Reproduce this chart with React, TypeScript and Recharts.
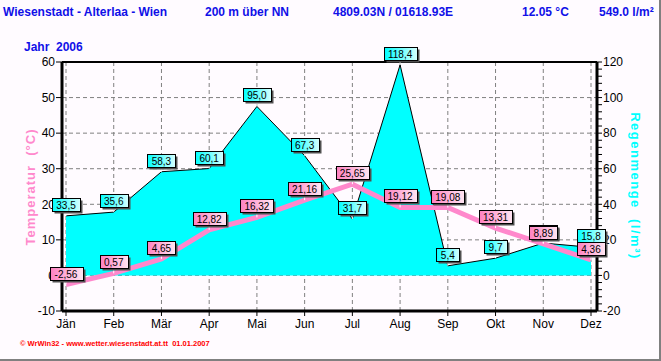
import React from 'react';
import {
  ComposedChart, Area, Line, XAxis, YAxis, CartesianGrid, LabelList, ReferenceLine,
} from 'recharts';

const months = ['Jän', 'Feb', 'Mär', 'Apr', 'Mai', 'Jun', 'Jul', 'Aug', 'Sep', 'Okt', 'Nov', 'Dez'];
const temperature = [-2.56, 0.57, 4.65, 12.82, 16.32, 21.16, 25.65, 19.12, 19.08, 13.31, 8.89, 4.36];
const rainfall = [33.5, 35.6, 58.3, 60.1, 95.0, 67.3, 31.7, 118.4, 5.4, 9.7, 18.2, 15.8];
const tempTicks = [-10, 0, 10, 20, 30, 40, 50, 60];
const rainTicks = [-20, 0, 20, 40, 60, 80, 100, 120];

const data = months.map((month, i) => ({
  month, idx: i, temp: temperature[i], rain: rainfall[i],
}));

// minor tick marks
const tempMinor: number[] = [];
for (let v = -10; v <= 60; v += 2) tempMinor.push(v);
const rainMinor: number[] = [];
for (let v = -20; v <= 120; v += 4) rainMinor.push(v);
const monthMinor: number[] = [];
for (let i = 0; i <= 44; i++) monthMinor.push(i / 4);

const FONT = '"Liberation Sans", Arial, sans-serif';
const BG = '#FFFBFF';
const BLUE = '#1010E8';
const PINK = '#FF88CC';
const CYAN = '#00FFFF';

const fmt = (v: number, d: number) => v.toFixed(d).replace('.', ',');

const valueBox = (kind: 'rain' | 'temp') => (props: any) => {
  const { x, y, value, index } = props;
  if (x == null || y == null || value == null) return null;
  const text = kind === 'rain' ? fmt(Number(value), 1) : fmt(Number(value), 2);
  const w = text.length * 5 + 8;
  const h = 13;
  const top = Math.round(y - 18) + 0.5;
  const left = Math.round(x - w / 2) + 0.5;
  return (
    <g key={`${kind}-${index}`}>
      <line x1={x} x2={x} y1={top + h} y2={y} stroke="#FFFFFF" strokeWidth={1} />
      <rect x={left + 2} y={top + 2} width={w} height={h} fill="#505050" />
      <rect x={left} y={top} width={w} height={h} fill={`url(#grad-${kind})`} stroke="#000" strokeWidth={1} />
      <text x={x} y={top + 10} textAnchor="middle" fontSize={10} fontFamily={FONT} fill="#000">{text}</text>
    </g>
  );
};

const abs = (left: number, top: number, extra: React.CSSProperties = {}): React.CSSProperties => ({
  position: 'absolute', left, top, whiteSpace: 'nowrap', fontFamily: FONT, ...extra,
});

const title: React.CSSProperties = { fontSize: 12, fontWeight: 'bold', color: BLUE, lineHeight: '14px' };

export default function App() {
  return (
    <div style={{ position: 'absolute', left: 0, top: 0, width: 661, height: 361, background: BG, overflow: 'hidden' }}>
      <ComposedChart width={661} height={361} data={data} margin={{ top: 62, right: 0, bottom: 20, left: 0 }}>
        <defs>
          <linearGradient id="grad-rain" x1="0" y1="0" x2="1" y2="0">
            <stop offset="0%" stopColor="#00FFFF" />
            <stop offset="100%" stopColor="#D8FFFF" />
          </linearGradient>
          <linearGradient id="grad-temp" x1="0" y1="0" x2="1" y2="0">
            <stop offset="0%" stopColor="#FF80C0" />
            <stop offset="100%" stopColor="#FFE6F3" />
          </linearGradient>
        </defs>
        <CartesianGrid yAxisId="temp" stroke="#808080" strokeDasharray="4 3" />
        <XAxis
          xAxisId="minor" type="number" dataKey="idx" domain={[0, 11]} ticks={monthMinor}
          padding={{ left: 4, right: 6 }} height={0} tick={false} tickSize={3}
          tickLine={{ stroke: '#000' }} axisLine={false} allowDataOverflow
        />
        <XAxis
          dataKey="month" scale="point" padding={{ left: 4, right: 6 }} height={30}
          tickSize={5} tickMargin={3} interval={0}
          tick={{ fill: '#000', fontSize: 12, fontFamily: FONT }}
          tickLine={{ stroke: '#000' }} axisLine={{ stroke: '#000', strokeWidth: 3 }}
        />
        <YAxis
          yAxisId="temp" orientation="left" width={62} domain={[-10, 60]} ticks={tempTicks}
          tickSize={6} tickMargin={1} allowDataOverflow
          tick={{ fill: '#000', fontSize: 12, fontFamily: FONT }}
          tickLine={{ stroke: '#000' }} axisLine={{ stroke: '#000', strokeWidth: 3 }}
        />
        <YAxis
          yAxisId="tempMinor" orientation="left" mirror width={0} domain={[-10, 60]} ticks={tempMinor}
          tick={false} tickSize={3} tickLine={{ stroke: '#000' }} axisLine={false} allowDataOverflow
        />
        <YAxis
          yAxisId="rain" orientation="right" width={64} domain={[-20, 120]} ticks={rainMinor}
          tickSize={5} tickMargin={1} interval={0} allowDataOverflow
          tickFormatter={(v: number) => (rainTicks.includes(v) ? String(v) : '')}
          tick={{ fill: '#000', fontSize: 12, fontFamily: FONT }}
          tickLine={{ stroke: '#000' }} axisLine={{ stroke: '#000', strokeWidth: 3 }}
        />
        <ReferenceLine yAxisId="temp" y={60} stroke="#000" strokeWidth={2} />
        <Area
          yAxisId="rain" type="linear" dataKey="rain" baseValue={0}
          fill={CYAN} fillOpacity={1} stroke="#000" strokeWidth={1}
          dot={false} activeDot={false} isAnimationActive={false}
        >
          <LabelList dataKey="rain" content={valueBox('rain')} />
        </Area>
        <Line
          yAxisId="temp" type="linear" dataKey="temp" stroke={PINK} strokeWidth={5}
          dot={false} activeDot={false} isAnimationActive={false}
        >
          <LabelList dataKey="temp" content={valueBox('temp')} />
        </Line>
      </ComposedChart>

      <div style={abs(3, 5, title)}>Wiesenstadt - Alterlaa - Wien</div>
      <div style={abs(205, 5, title)}>200 m über NN</div>
      <div style={abs(333, 5, title)}>4809.03N / 01618.93E</div>
      <div style={abs(522, 5, title)}>12.05 °C</div>
      <div style={abs(599, 5, title)}>549.0 l/m²</div>
      <div style={abs(24, 40, title)}>Jahr&nbsp;&nbsp;2006</div>

      <div style={abs(30, 187, {
        fontSize: 13, fontWeight: 'bold', color: PINK, letterSpacing: 1,
        transform: 'translate(-50%, -50%) rotate(-90deg)',
      })}>Temperatur&nbsp;&nbsp;(°C)</div>
      <div style={abs(635, 186, {
        fontSize: 13, fontWeight: 'bold', color: CYAN, letterSpacing: 1.5,
        transform: 'translate(-50%, -50%) rotate(90deg)',
      })}>Regenmenge&nbsp;&nbsp;(l/m³)</div>

      <div style={abs(20, 339, { fontSize: 7.5, color: '#FF0000', fontWeight: 'bold' })}>
        © WrWin32 - www.wetter.wiesenstadt.at.tt&nbsp;&nbsp;01.01.2007
      </div>

      <div style={{ position: 'absolute', right: 0, top: 0, width: 2, height: 361, background: '#808080' }} />
      <div style={{ position: 'absolute', left: 0, bottom: 0, width: 661, height: 2, background: '#808080' }} />
    </div>
  );
}
